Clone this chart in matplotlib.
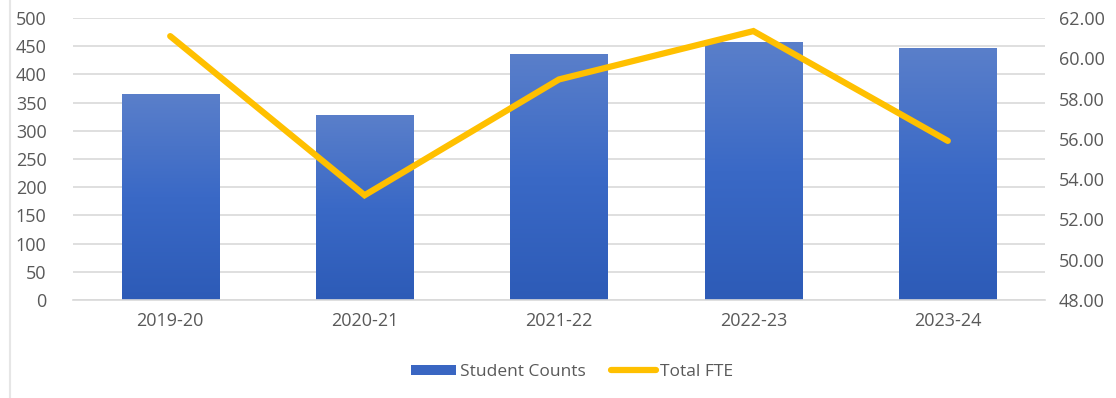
import matplotlib
matplotlib.use("Agg")
import matplotlib.pyplot as plt
import numpy as np
from matplotlib.patches import Patch
from matplotlib.lines import Line2D
from matplotlib.colors import LinearSegmentedColormap

years = ["2019-20", "2020-21", "2021-22", "2022-23", "2023-24"]
student_counts = [365, 328, 437, 457, 446]
total_fte = [61.1, 53.2, 58.95, 61.35, 55.9]
left_ticks = [0, 50, 100, 150, 200, 250, 300, 350, 400, 450, 500]
right_ticks = [48, 50, 52, 54, 56, 58, 60, 62]

plt.rcParams['font.family'] = ['Open Sans', 'DejaVu Sans']
text_color = "#595959"
grid_color = "#d9d9d9"
fs = 13

fig = plt.figure(figsize=(11.16, 3.98), dpi=100)
ax = fig.add_axes([73/1116, 1-300/398, (1045-73)/1116, (300-18)/398])
ax2 = ax.twinx()

x = np.arange(len(years))
bars = ax.bar(x, student_counts, width=0.5, color="none", zorder=2)
cmap = LinearSegmentedColormap.from_list("g", ["#2d5bb7", "#3a69c6", "#5a7fca"])
grad = np.linspace(0, 1, 256).reshape(-1, 1)
for b in bars:
    x0, y0 = b.get_x(), b.get_y()
    w, h = b.get_width(), b.get_height()
    im = ax.imshow(grad, extent=[x0, x0 + w, y0, y0 + h], origin="lower",
                   cmap=cmap, aspect="auto", zorder=2)
    im.set_clip_path(b)

ax.set_xlim(-0.5, len(years) - 0.5)
ax.set_ylim(0, 500)
ax.set_yticks(left_ticks)
ax.set_xticks(x)
ax.set_xticklabels(years)
ax.yaxis.grid(True, color=grid_color, linewidth=1.2, zorder=0)
ax.set_axisbelow(True)
for s in ["top", "right", "left"]:
    ax.spines[s].set_visible(False)
ax.spines["bottom"].set_color(grid_color)
ax.spines["bottom"].set_linewidth(1.2)
ax.tick_params(axis="y", length=0, pad=19, labelsize=fs, labelcolor=text_color)
ax.tick_params(axis="x", length=0, pad=9, labelsize=fs, labelcolor=text_color)

ax2.plot(x, total_fte, color="#FFC000", linewidth=4.5, solid_capstyle="round",
         solid_joinstyle="miter", zorder=3)
ax2.set_ylim(48, 62)
ax2.set_yticks(right_ticks)
ax2.set_yticklabels([f"{v:.2f}" for v in right_ticks])
for s in ["top", "right", "left", "bottom"]:
    ax2.spines[s].set_visible(False)
ax2.tick_params(axis="y", length=0, pad=10, labelsize=fs, labelcolor=text_color)

# left frame border
fig.add_artist(Line2D([10/1116, 10/1116], [0, 1], transform=fig.transFigure,
                      color="#e6e6e6", linewidth=1.5))

handles = [Patch(facecolor="#3a66c2", edgecolor="none"),
           Line2D([0], [0], color="#FFC000", linewidth=4.5, solid_capstyle="round")]
fig.legend(handles, ["Student Counts", "Total FTE"], loc="center",
           bbox_to_anchor=(0.5 + 14/1116, 1 - 372/398), ncol=2, frameon=False,
           fontsize=12.5, labelcolor=text_color, handlelength=2.6,
           handleheight=0.55, handletextpad=0.2, columnspacing=1.5)

fig.savefig("out.png", dpi=100)
